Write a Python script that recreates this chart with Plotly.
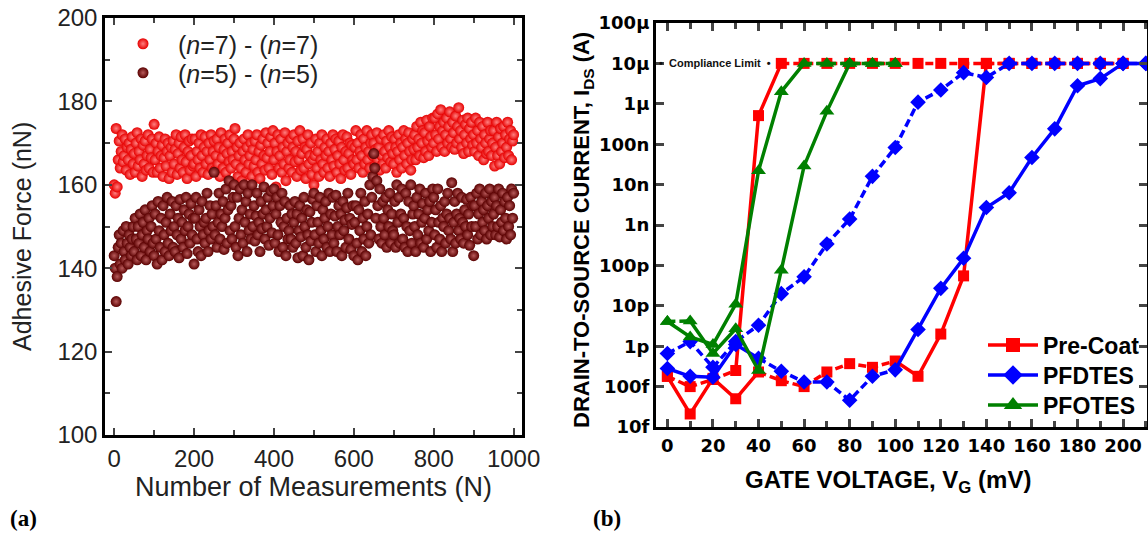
import plotly.graph_objects as go

# ---------------- Panel (a) data ----------------
measurements = [i * 2.5 for i in range(401)]  # 0 .. 1000
force_n7 = [
    160, 158, 173.5, 159.5, 166, 170.5, 164, 168, 172, 165.5, 167, 171, 163.5, 169, 166, 170, 162.5, 168.5, 171.5, 165,
    167.5, 163, 170, 172.5, 164.5, 168, 166, 171, 162, 169.5, 165, 170.5, 163.5, 167, 172, 164, 168.5, 166.5, 171, 163,
    174.5, 166, 170, 163, 168, 171.5, 164, 167, 169.5, 162, 166.5, 171, 164.5, 168, 170, 161.5, 167, 169, 163, 170.5,
    165, 168.5, 172, 162.5, 167.5, 170, 164, 171.5, 166, 163, 169, 172, 165.5, 161.5, 168, 170.5, 163.5, 167, 171, 164.5,
    165, 171, 162, 168, 166, 170, 164, 172, 167, 163, 169, 171.5, 165, 168, 162.5, 170, 166, 172, 164, 168,
    170.5, 163.5, 167, 171, 165, 169, 162, 172.5, 166.5, 164, 168.5, 171, 163, 167.5, 170, 165.5, 172, 164, 168, 166,
    171, 173.5, 165, 169, 162, 167, 170, 164, 161, 168, 171, 166, 163, 169, 172, 165, 167, 170, 162, 168.5,
    164.5, 170.5, 166, 172, 163, 168, 161.5, 169.5, 165, 171, 167, 163.5, 172.5, 166.5, 170, 164, 168, 171.5, 162.5, 173,
    166, 170, 159.5, 168, 172, 164, 167, 171, 163, 169, 165, 172.5, 161, 168, 170, 164, 166, 171, 163, 169,
    172, 165.5, 168, 162, 170.5, 166, 173, 163.5, 167.5, 171, 164, 169, 161.5, 168.5, 172, 165, 167, 170, 162.5, 166,
    160, 167, 171, 164, 168, 162, 170, 166, 172, 165, 163, 169, 167, 171, 164, 168, 162, 170, 166, 172,
    164.5, 168.5, 171, 163, 167, 170.5, 165, 161.5, 169, 172, 166, 163.5, 168, 171.5, 164, 167.5, 170, 162.5, 169.5, 166,
    165, 169, 173, 166, 170, 164, 168, 172, 167, 163, 171, 165, 169, 173, 166, 168, 164, 170, 172, 167,
    170, 164.5, 168.5, 172.5, 166, 169, 163.5, 171, 167, 165, 172, 168, 164, 170.5, 166.5, 173, 169, 165.5, 171.5, 167.5,
    165, 171, 169, 163, 168, 172, 166, 170, 164, 169, 173, 167, 171, 165, 170, 172.5, 168, 163.5, 166, 171,
    168.5, 172, 166, 174, 169, 171, 167, 175, 170, 173, 166.5, 172.5, 168, 175.5, 170.5, 167, 174, 171.5, 169, 176,
    170, 176, 172, 168, 177, 171, 174, 178, 169, 173, 175, 168, 172, 176, 170, 174, 177.5, 171, 169, 175,
    172.5, 168.5, 176.5, 170, 174, 178.5, 171, 173, 169, 175.5, 167.5, 172, 174.5, 170, 176, 168, 173.5, 171, 175, 169.5,
    172, 168, 176, 170, 173, 167, 175, 171, 169, 174, 166, 172, 170, 167.5, 175, 168, 171, 173, 167, 170,
    173, 164.5, 169, 175, 167, 171.5, 165, 173.5, 168, 170, 174, 166.5, 172, 169, 175, 167, 171, 173, 166, 170.5,
    172,
]
force_n5 = [
    143, 140, 132, 138, 145, 148, 141, 146, 140, 149, 144, 142, 150, 146, 141, 148, 145, 143, 147, 150,
    144, 152, 147, 142, 150, 146, 153, 143, 148, 151, 145, 154, 142, 149, 147, 152, 144, 150, 155, 146,
    143, 153, 147, 141, 156, 149, 145, 152, 142, 155, 148, 144, 151, 157, 146, 143, 153, 149, 156, 145,
    150, 144, 155, 148, 152, 142.5, 156.5, 147, 151, 145, 154, 149, 157, 143.5, 150, 153, 146, 155.5, 148, 152,
    141, 152, 157, 147, 144, 154, 150, 143, 156, 148, 151, 146, 152, 158, 144, 149, 155, 147, 153, 150,
    163, 148, 155, 145, 151, 158, 147, 153, 150, 156, 144.5, 152, 159, 146, 154, 161, 149, 155, 147, 157,
    160, 150, 145, 157, 143, 152, 159, 148, 154, 146, 160, 151, 156, 144, 158, 149, 153, 147, 160, 150,
    155, 146.5, 152.5, 158, 148, 151, 144, 156, 149.5, 153, 159.5, 147, 154, 150, 157, 145.5, 152, 158.5, 148.5, 155,
    159, 146, 153, 157, 148, 144, 155, 151, 158, 145, 150, 156, 143, 152, 147, 149, 155, 147, 153, 145,
    151, 156, 146, 153, 142.5, 149, 155, 147.5, 152, 143, 157, 150, 145, 154, 148, 142, 153.5, 146.5, 151, 156.5,
    158, 148, 144, 155, 151, 146, 157, 149, 143, 154, 147, 152, 156, 145, 150, 158, 144, 153, 148, 157,
    146, 152.5, 157.5, 144, 150, 155, 148, 153, 143, 156, 149, 151.5, 145, 154.5, 158, 147, 152, 144.5, 150.5, 155,
    143, 151, 155, 146, 142, 154, 149, 158, 144, 152, 147, 156, 143, 150, 153, 146, 160, 148, 157, 162,
    167.5, 164, 152, 161, 155, 147, 159, 150, 146, 156, 152, 148, 157, 145, 154, 150, 158, 146, 153, 149,
    148, 156, 145, 160, 151, 157, 146, 153, 159, 147, 152, 145, 158, 150, 144, 156, 149, 160, 146, 153,
    155, 150, 144, 157, 148, 153, 159, 146, 151, 155.5, 145, 152, 158, 147, 154, 149, 156, 144, 151, 159,
    157, 148, 154, 145, 159, 151, 147, 155, 144, 152, 150, 156, 146, 153, 158, 149, 152, 147, 160.5, 144,
    151, 156, 146, 153, 158, 149, 152, 147, 157, 151, 146, 154, 150, 156.5, 148, 153, 145.5, 157, 150, 155,
    143, 155, 150, 158, 147, 153, 159, 148, 156, 151, 154, 149, 158, 147, 155, 152, 159, 148, 156, 150,
    153, 157, 148, 155, 150, 159, 147.5, 154, 151, 158, 149, 156, 152, 147, 157, 150, 155, 148, 159, 152,
    158,
]
assert len(force_n7) == len(measurements) and len(force_n5) == len(measurements)
a_xticks = [0, 200, 400, 600, 800, 1000]
a_yticks = [100, 120, 140, 160, 180, 200]

# ---------------- Panel (b) data ----------------
gate_mv = list(range(0, 220, 10))  # 0 .. 210 mV
precoat_early = [1.8e-13, 1.0e-13, 1.5e-13, 2.5e-13, 5.1e-7, 1e-5, 1e-5, 1e-5, 1e-5, 1e-5, 1e-5,
                 1e-5, 1e-5, 1e-5, 1e-5, 1e-5, 1e-5, 1e-5, 1e-5, 1e-5, 1e-5]
precoat_late = [1.8e-13, 2.1e-14, 1.6e-13, 5.0e-14, 2.3e-13, 1.4e-13, 1.0e-13, 2.3e-13, 3.7e-13, 3.0e-13,
                4.3e-13, 1.8e-13, 2.0e-12, 5.5e-11, 1e-5, 1e-5, 1e-5, 1e-5, 1e-5, 1e-5, 1e-5]
pfdtes_early = [6.6e-13, 1.3e-12, 3.0e-13, 1.3e-12, 3.3e-12, 2.0e-11, 5.2e-11, 3.4e-10, 1.4e-9, 1.6e-8,
                8.3e-8, 1.1e-6, 2.2e-6, 5.9e-6, 4.5e-6, 1e-5, 1e-5, 1e-5, 1e-5, 1e-5, 1e-5, 1e-5]
pfdtes_late = [2.8e-13, 1.8e-13, 1.7e-13, 1.1e-12, 5.0e-13, 2.4e-13, 1.3e-13, 1.3e-13, 4.6e-14, 1.8e-13,
               2.6e-13, 2.6e-12, 2.7e-11, 1.5e-10, 2.7e-9, 6.3e-9, 4.7e-8, 2.4e-7, 2.8e-6, 4.2e-6, 1e-5, 1e-5]
pfotes_early = [4.1e-12, 1.7e-12, 1.1e-12, 1.1e-11, 2.2e-8, 2.0e-6, 1e-5, 1e-5, 1e-5, 1e-5, 1e-5]
pfotes_late = [4.1e-12, 4.2e-12, 6.6e-13, 2.7e-12, 2.5e-13, 7.6e-11, 2.9e-8, 6.5e-7, 1e-5, 1e-5, 1e-5]
b_ytick_vals = [1e-14, 1e-13, 1e-12, 1e-11, 1e-10, 1e-9, 1e-8, 1e-7, 1e-6, 1e-5, 1e-4]
b_ytick_text = ["10f", "100f", "1p", "10p", "100p", "1n", "10n", "100n", "1\u03bc", "10\u03bc", "100\u03bc"]
b_xticks = list(range(0, 201, 20))

# line style per segment: s = solid, d = dashed
STY_PRE_EARLY = "ddd" + "ss" + "d" * 15
STY_PRE_LATE = "ssss" + "dddddd" + "ssss" + "d" * 6
STY_PFD_EARLY = "d" * 21
STY_PFD_LATE = "ssss" + "dddddd" + "s" * 11
STY_PFO_EARLY = "ssssss" + "dddd"
STY_PFO_LATE = "d" + "sssssss" + "dd"

FONT = "Liberation Sans, Arial, sans-serif"
WIDE = "DejaVu Sans, Liberation Sans, sans-serif"
DASH = "8px,4px"

W, H = 1148, 533


def px(x):
    return x / W


def py(y):
    return 1 - y / H


fig = go.Figure()

# Panel (a)
fig.add_trace(go.Scatter(
    x=measurements, y=force_n7, mode="markers", xaxis="x", yaxis="y",
    name="(<i>n</i>=7) - (<i>n</i>=7)", legend="legend",
    marker=dict(size=11, color="#e60000", gradient=dict(type="radial", color="#ff8080"),
                line=dict(width=0)),
))
fig.add_trace(go.Scatter(
    x=measurements, y=force_n5, mode="markers", xaxis="x", yaxis="y",
    name="(<i>n</i>=5) - (<i>n</i>=5)", legend="legend5",
    marker=dict(size=11, color="#5a0000", gradient=dict(type="radial", color="#b85a5a"),
                line=dict(width=0)),
))


def add_sweep(x, y, styles, color):
    for st, dash in (("s", "solid"), ("d", DASH)):
        xs, ys = [], []
        last = None
        for i in range(len(y) - 1):
            if styles[i] != st:
                continue
            if last != i:
                if xs:
                    xs.append(None)
                    ys.append(None)
                xs.append(x[i])
                ys.append(y[i])
            xs.append(x[i + 1])
            ys.append(y[i + 1])
            last = i + 1
        if xs:
            fig.add_trace(go.Scatter(x=xs, y=ys, mode="lines", xaxis="x2", yaxis="y2",
                                     line=dict(color=color, width=3.5, dash=dash),
                                     showlegend=False, hoverinfo="skip"))


def add_device(name, sweeps, color, symbol, size, legend_id):
    for y, st in sweeps:
        add_sweep(gate_mv[:len(y)], y, st, color)
    for y, st in sweeps:
        fig.add_trace(go.Scatter(x=gate_mv[:len(y)], y=y, mode="markers", xaxis="x2", yaxis="y2",
                                 marker=dict(symbol=symbol, size=size, color=color, line=dict(width=0)),
                                 showlegend=False))
    fig.add_trace(go.Scatter(x=[None], y=[None], mode="lines+markers", xaxis="x2", yaxis="y2",
                             name=name, legend=legend_id,
                             line=dict(color=color, width=3.5),
                             marker=dict(symbol=symbol, size=size + 3, color=color)))


add_device("Pre-Coat", [(precoat_early, STY_PRE_EARLY), (precoat_late, STY_PRE_LATE)],
           "#ff0000", "square", 11, "legend2")
add_device("PFDTES", [(pfdtes_early, STY_PFD_EARLY), (pfdtes_late, STY_PFD_LATE)],
           "#0000ff", "diamond", 12, "legend3")
add_device("PFOTES", [(pfotes_early, STY_PFO_EARLY), (pfotes_late, STY_PFO_LATE)],
           "#008000", "triangle-up", 13, "legend4")

tick_a = dict(family=FONT, size=24, color="#222222")
tick_b = dict(family=WIDE, size=18, color="#000000", weight="bold")
leg_a_font = dict(family=FONT, size=25, color="#222222")
leg_b_font = dict(family=FONT, size=23, color="#000000", weight="bold")


def legend_at(x, y, font, itemwidth):
    return dict(x=px(x), y=py(y), xanchor="left", yanchor="middle", bgcolor="rgba(0,0,0,0)",
                font=font, itemwidth=itemwidth, tracegroupgap=0)


fig.update_layout(
    width=W, height=H, autosize=False,
    margin=dict(l=0, r=0, t=0, b=0, autoexpand=False),
    paper_bgcolor="white", plot_bgcolor="white",
    font=dict(family=FONT),
    xaxis=dict(domain=[px(105), px(522)], range=[-23, 1021], anchor="y", automargin=False,
               tickvals=a_xticks, ticks="inside", ticklen=7, tickwidth=2,
               minor=dict(dtick=100, ticks="inside", ticklen=5, tickwidth=2, tick0=0),
               showline=True, linecolor="black", linewidth=2.5, mirror="allticks",
               showgrid=False, zeroline=False, tickfont=tick_a),
    yaxis=dict(domain=[py(435), py(18)], range=[100, 200], anchor="x", automargin=False,
               tickvals=a_yticks, ticks="inside", ticklen=7, tickwidth=2,
               minor=dict(dtick=10, ticks="inside", ticklen=5, tickwidth=2, tick0=0),
               showline=True, linecolor="black", linewidth=2.5, mirror="allticks",
               showgrid=False, zeroline=False, tickfont=tick_a),
    xaxis2=dict(domain=[px(656), px(1147)], range=[-5, 210.5], anchor="y2", automargin=False,
                tickvals=b_xticks, ticks="inside", ticklen=8, tickwidth=2.5,
                minor=dict(dtick=10, ticks="inside", ticklen=6, tickwidth=2.5, tick0=0),
                showline=True, linecolor="black", linewidth=3, mirror="allticks",
                showgrid=False, zeroline=False, tickfont=tick_b),
    yaxis2=dict(domain=[py(427), py(23)], type="log", range=[-14, -4], anchor="x2", automargin=False,
                tickvals=b_ytick_vals, ticktext=b_ytick_text, ticks="inside", ticklen=8, tickwidth=2.5,
                showline=True, linecolor="black", linewidth=3, mirror="allticks",
                showgrid=False, zeroline=False, tickfont=tick_b),
    legend=legend_at(108, 44, leg_a_font, 60),
    legend5=legend_at(108, 73, leg_a_font, 60),
    legend2=legend_at(983, 345, leg_b_font, 50),
    legend3=legend_at(983, 375, leg_b_font, 50),
    legend4=legend_at(983, 405, leg_b_font, 50),
    showlegend=True,
)

annots = [
    dict(text="Adhesive Force (nN)", x=px(22), y=py(237), textangle=-90,
         font=dict(family=FONT, size=25, color="#222222")),
    dict(text="Number of Measurements (N)", x=px(314), y=py(487),
         font=dict(family=FONT, size=27, color="#222222")),
    dict(text="DRAIN-TO-SOURCE CURRENT, I<sub>DS</sub> (A)", x=px(583), y=py(230), textangle=-90,
         font=dict(family=FONT, size=22, color="#000000", weight="bold")),
    dict(text="GATE VOLTAGE, V<sub>G</sub> (mV)", x=px(888), y=py(481),
         font=dict(family=FONT, size=24, color="#000000", weight="bold")),
    dict(text="(a)", x=px(23), y=py(518),
         font=dict(family="Liberation Serif, Times New Roman, serif", size=23, color="#000000",
                   weight="bold")),
    dict(text="(b)", x=px(607), y=py(518),
         font=dict(family="Liberation Serif, Times New Roman, serif", size=23, color="#000000",
                   weight="bold")),
]
for a in annots:
    a.update(xref="paper", yref="paper", showarrow=False, xanchor="center", yanchor="middle")
    fig.add_annotation(**a)

fig.add_annotation(text="\u2022  Compliance Limit  \u2022", x=21, y=-5, xref="x2", yref="y2",
                   showarrow=False, xanchor="center", yanchor="middle",
                   font=dict(family=FONT, size=11, color="#111111", weight="bold"))

fig.write_html("out.html")
